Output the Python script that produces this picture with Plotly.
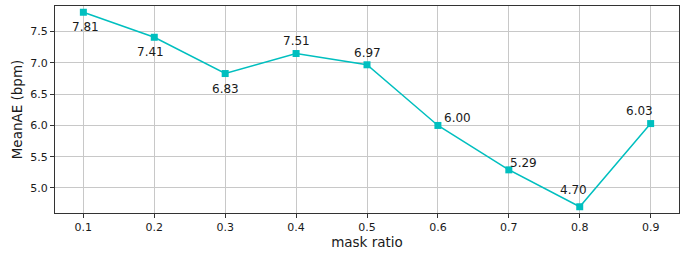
import plotly.graph_objects as go

mask_ratio = [0.1, 0.2, 0.3, 0.4, 0.5, 0.6, 0.7, 0.8, 0.9]
mean_ae = [7.81, 7.41, 6.83, 7.15, 6.97, 6.00, 5.29, 4.70, 6.03]
point_labels = ["7.81", "7.41", "6.83", "7.51", "6.97", "6.00", "5.29", "4.70", "6.03"]
# label offsets in pixels (dx, dy; dy positive = up)
label_dx = [2, -4, 0, 0, 0, 4, -1, -6, -11]
label_dy = [-15, -15, -15, 13, 12, 7, 7, 17, 13]
label_anchor = ["center", "center", "center", "center", "center", "left", "left", "center", "center"]

x_ticks = [0.1, 0.2, 0.3, 0.4, 0.5, 0.6, 0.7, 0.8, 0.9]
y_ticks = [5.0, 5.5, 6.0, 6.5, 7.0, 7.5]

color = "#00bfbf"

fig = go.Figure()
fig.add_trace(go.Scatter(
    x=mask_ratio, y=mean_ae, mode="lines+markers",
    line=dict(color=color, width=1.5),
    marker=dict(symbol="square", size=7, color=color),
    showlegend=False,
))

for x, y, t, dx, dy, anc in zip(mask_ratio, mean_ae, point_labels, label_dx, label_dy, label_anchor):
    fig.add_annotation(
        x=x, y=y, text=t, showarrow=False,
        xshift=dx, yshift=dy, xanchor=anc, yanchor="middle",
        font=dict(family="DejaVu Sans", size=12, color="#1a1a1a"),
    )

axis_common = dict(
    showline=True, linecolor="#333333", linewidth=1, mirror=True,
    showgrid=True, gridcolor="#c8c8c8", gridwidth=1,
    ticks="outside", ticklen=4, tickcolor="#333333", tickwidth=1,
    tickfont=dict(family="DejaVu Sans", size=11, color="#1a1a1a"),
    zeroline=False,
)

fig.update_xaxes(
    range=[0.06, 0.94], tickvals=x_ticks, ticktext=[f"{v:.1f}" for v in x_ticks],
    title=dict(text="mask ratio", font=dict(family="DejaVu Sans", size=13.5, color="#1a1a1a"), standoff=2),
    **axis_common,
)
fig.update_yaxes(
    range=[4.60, 7.91], tickvals=y_ticks, ticktext=[f"{v:.1f}" for v in y_ticks],
    title=dict(text="MeanAE (bpm)", font=dict(family="DejaVu Sans", size=13.5, color="#1a1a1a"), standoff=4),
    **axis_common,
)

fig.update_layout(
    width=683, height=253,
    margin=dict(l=55, r=4, t=6, b=40),
    paper_bgcolor="white", plot_bgcolor="white",
)

fig.write_html(
    "out.html",
    config={"displayModeBar": False},
    post_script="document.body.style.margin='0';document.body.style.overflow='hidden';",
)
